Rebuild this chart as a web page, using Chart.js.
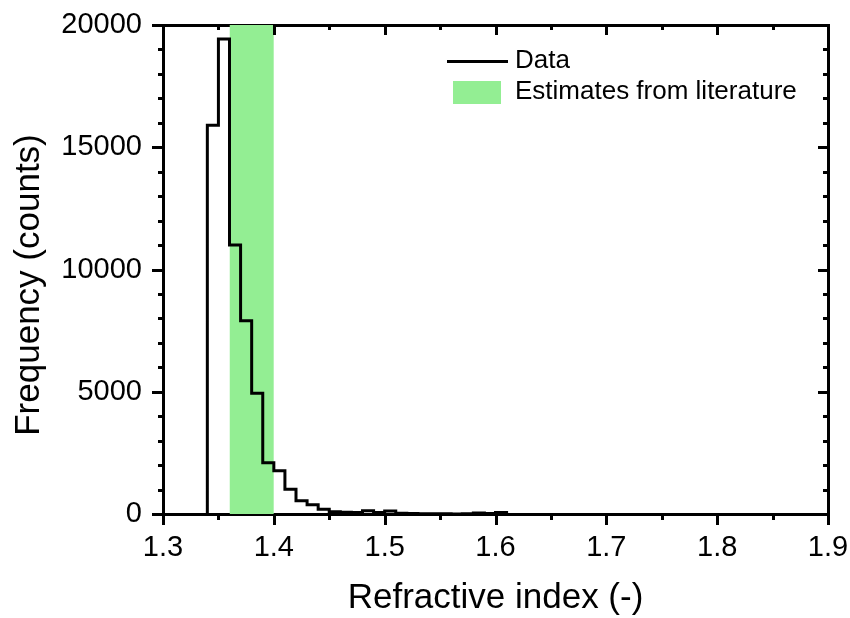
<!DOCTYPE html>
<html>
<head>
<meta charset="utf-8">
<title>Refractive index histogram</title>
<script src="https://cdn.jsdelivr.net/npm/chart.js@4.4.1/dist/chart.umd.min.js"></script>
<style>
  html, body { margin: 0; padding: 0; background: #fff; }
  #wrap { width: 850px; height: 618px; }
</style>
</head>
<body>
<div id="wrap"><canvas id="chart-histogram" width="850" height="618"></canvas></div>
<script>
// histogram bins: left edge of each 0.01-wide bin and its count
const binStarts = [1.34, 1.35, 1.36, 1.37, 1.38, 1.39, 1.40, 1.41, 1.42, 1.43, 1.44, 1.45, 1.46, 1.47,
  1.48, 1.49, 1.50, 1.51, 1.52, 1.53, 1.54, 1.55, 1.56, 1.57, 1.58, 1.59, 1.60];
const binCounts = [15900, 19430, 11000, 7900, 4940, 2100, 1770, 1010, 545, 380, 190, 90, 70, 60,
  130, 60, 120, 30, 20, 10, 10, 10, 5, 10, 40, 20, 60];
const lastBinEnd = 1.61;

// refractive index range reported in the literature
const literatureRange = [1.36, 1.40];

const xTicks = [1.3, 1.4, 1.5, 1.6, 1.7, 1.8, 1.9];
const yTicks = [0, 5000, 10000, 15000, 20000];

const FONT = '"Liberation Sans", Arial, sans-serif';

// step outline: start at zero on the first edge, close back to zero after the last bin
const histPoints = [{ x: binStarts[0], y: 0 }]
  .concat(binStarts.map((x, i) => ({ x, y: binCounts[i] })))
  .concat([{ x: lastBinEnd, y: 0 }]);

const bandPoints = literatureRange.map((x) => ({ x, y: yTicks[yTicks.length - 1] }));

// keep the plot frame fixed: no extra room for overhanging tick labels
const fixSize = (w, h) => (s) => {
  if (w !== null) s.width = w;
  if (h !== null) s.height = h;
  s.paddingLeft = s.paddingRight = s.paddingTop = s.paddingBottom = 0;
};

// tick marks: out on left/bottom, in on top/right, minor ticks in between
const frameTicks = {
  id: "frameTicks",
  afterDraw(chart) {
    const { ctx, chartArea: a, scales: { x, y } } = chart;
    ctx.save();
    ctx.strokeStyle = "#000";
    ctx.lineWidth = 3;
    ctx.beginPath();
    for (let i = 0; i <= 12; i++) {
      const px = Math.round(x.getPixelForValue(xTicks[0] + i * 0.05)) + 0.5;
      const major = i % 2 === 0;
      ctx.moveTo(px, a.bottom); ctx.lineTo(px, a.bottom + (major ? 11 : 6));
      ctx.moveTo(px, a.top); ctx.lineTo(px, a.top + (major ? 10 : 5));
    }
    for (let i = 0; i <= 20; i++) {
      const py = Math.round(y.getPixelForValue(i * 1000)) + 0.5;
      const major = i % 5 === 0;
      ctx.moveTo(a.left, py); ctx.lineTo(a.left - (major ? 11 : 5), py);
      ctx.moveTo(a.right, py); ctx.lineTo(a.right - (major ? 10 : 5), py);
    }
    ctx.stroke();
    ctx.restore();
  },
};

// axis titles
const axisTitles = {
  id: "axisTitles",
  afterDraw(chart) {
    const { ctx, chartArea: a } = chart;
    ctx.save();
    ctx.fillStyle = "#000";
    ctx.font = "35px " + FONT;
    ctx.textAlign = "center";
    ctx.textBaseline = "alphabetic";
    ctx.fillText("Refractive index (-)", (a.left + a.right) / 2, 608);
    ctx.translate(29, 285);
    ctx.rotate(-Math.PI / 2);
    ctx.textBaseline = "middle";
    ctx.fillText("Frequency (counts)", 0, 0);
    ctx.restore();
  },
};

// legend inside the plot, upper right
const insideLegend = {
  id: "insideLegend",
  afterDraw(chart) {
    const ctx = chart.ctx;
    const [hist, band] = chart.data.datasets;
    ctx.save();
    ctx.font = "26px " + FONT;
    ctx.textAlign = "left";
    ctx.textBaseline = "middle";
    ctx.strokeStyle = hist.borderColor;
    ctx.lineWidth = 3;
    ctx.beginPath();
    ctx.moveTo(447, 61.5);
    ctx.lineTo(508, 61.5);
    ctx.stroke();
    ctx.fillStyle = band.backgroundColor;
    ctx.fillRect(453, 81, 48, 23);
    ctx.fillStyle = "#000";
    ctx.fillText(hist.label, 515, 61);
    ctx.fillText(band.label, 515, 92);
    ctx.restore();
  },
};

new Chart(document.getElementById("chart-histogram"), {
  type: "line",
  data: {
    datasets: [
      {
        label: "Data",
        data: histPoints,
        stepped: "before",
        borderColor: "#000",
        borderWidth: 3,
        pointRadius: 0,
        fill: false,
      },
      {
        label: "Estimates from literature",
        data: bandPoints,
        borderWidth: 0,
        borderColor: "rgba(0,0,0,0)",
        backgroundColor: "#93ee93",
        pointRadius: 0,
        fill: "origin",
      },
    ],
  },
  options: {
    responsive: false,
    animation: false,
    layout: { padding: 0 },
    plugins: { legend: { display: false }, tooltip: { enabled: false } },
    scales: {
      x: {
        type: "linear",
        position: "bottom",
        min: 1.3,
        max: 1.9,
        afterBuildTicks: (s) => { s.ticks = xTicks.map((value) => ({ value })); },
        afterFit: fixSize(null, 104),
        grid: { display: false },
        border: { display: true, color: "#000", width: 3 },
        ticks: {
          color: "#000",
          font: { family: FONT, size: 29 },
          padding: 9,
          maxRotation: 0,
          callback: (v) => v.toFixed(1),
        },
      },
      x2: {
        type: "linear",
        position: "top",
        min: 1.3,
        max: 1.9,
        afterFit: fixSize(null, 25),
        grid: { display: false },
        border: { display: true, color: "#000", width: 3 },
        ticks: { display: false },
      },
      y: {
        type: "linear",
        position: "left",
        min: 0,
        max: 20000,
        afterBuildTicks: (s) => { s.ticks = yTicks.map((value) => ({ value })); },
        afterFit: fixSize(163, null),
        grid: { display: false },
        border: { display: true, color: "#000", width: 3 },
        ticks: {
          color: "#000",
          font: { family: FONT, size: 29 },
          padding: 13,
          callback: (v) => String(v),
        },
      },
      y2: {
        type: "linear",
        position: "right",
        min: 0,
        max: 20000,
        afterFit: fixSize(22, null),
        grid: { display: false },
        border: { display: true, color: "#000", width: 3 },
        ticks: { display: false },
      },
    },
  },
  plugins: [frameTicks, axisTitles, insideLegend],
});
</script>
</body>
</html>
